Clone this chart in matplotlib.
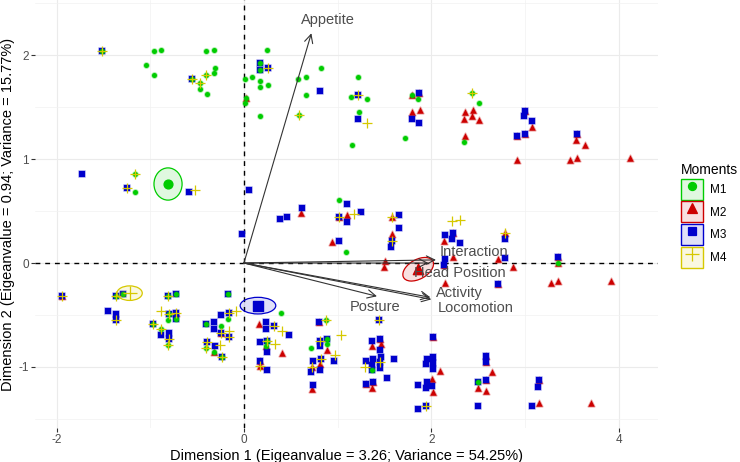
import matplotlib
matplotlib.use('Agg')
import matplotlib.pyplot as plt
from matplotlib.patches import Ellipse, Patch
from matplotlib.lines import Line2D
from matplotlib.ticker import MultipleLocator
from matplotlib.colors import to_rgba

plt.rcParams['font.family'] = ['Liberation Sans', 'DejaVu Sans']
plt.rcParams['axes.unicode_minus'] = False

# ---- data ----
moments = ['M1', 'M2', 'M3', 'M4']
colors = ['#00CC00', '#CC0000', '#0000CC', '#D6C800']
markers = ['o', '^', 's', '+']

m1_x = [-1.52, -0.96, -0.88, -0.40, -0.32, -1.04, -0.96, -0.55, -0.40, -0.32,
        -0.31, -0.47, -0.47, -0.39, 0.25, 0.17, 0.17, 0.01, 0.09, 0.17,
        0.17, 0.26, 0.02, 0.01, 0.17, 0.58, 0.66, 0.82, 0.66, 0.59,
        1.14, 1.22, 1.31, 1.23, 1.15, 1.79, 1.86, 1.72, 2.43, 2.51,
        2.35, -1.16, -1.16, 1.01, 1.09, 3.35, -1.37, -1.29, -0.81, -0.73,
        -0.80, -0.81, -0.73, -0.97, -0.88, -0.81, -0.17, -0.17, -0.40, -0.24,
        -0.41, -0.32, -0.23, 0.40, 0.25, 0.24, 0.88, 0.89, 0.89, 0.72,
        1.37, 2.50]
m1_y = [2.04, 2.04, 2.05, 2.04, 2.05, 1.90, 1.81, 1.77, 1.81, 1.83,
        1.88, 1.73, 1.67, 1.63, 2.05, 1.92, 1.86, 1.77, 1.79, 1.75,
        1.69, 1.71, 1.59, 1.54, 1.41, 1.77, 1.79, 1.88, 1.62, 1.42,
        1.60, 1.79, 1.58, 1.45, 1.14, 1.62, 1.58, 1.20, 1.64, 1.54,
        1.16, 0.86, 0.68, 0.61, 0.11, 0.00, -0.32, -0.30, -0.32, -0.30,
        -0.49, -0.55, -0.54, -0.59, -0.63, -0.79, -0.30, -0.54, -0.59, -0.61,
        -0.82, -0.86, -0.90, -0.48, -0.75, -0.80, -0.55, -0.73, -0.78, -0.82,
        -1.03, -1.14]

m2_x = [0.02, 1.79, 1.87, 1.79, 1.88, 2.36, 2.44, 2.35, 2.43, 2.51,
        2.36, 3.00, 3.07, 2.92, 3.00, 2.92, 3.56, 3.55, 3.64, 3.48,
        3.56, 4.12, 1.02, 1.10, 0.61, 0.94, 1.58, 1.58, 1.51, 1.50,
        2.14, 2.23, 2.14, 2.23, 2.79, 2.71, 2.87, 3.35, 3.35, 2.15,
        2.71, 3.28, 3.35, 3.92, -1.94, -0.73, -0.24, -0.32, 0.16, 0.24,
        0.41, 0.17, 0.17, 0.80, 0.89, 0.81, 0.73, 0.73, 1.45, 1.37,
        1.46, 1.30, 1.38, 1.37, 2.02, 2.09, 2.01, 2.02, 2.58, 2.58,
        2.65, 2.58, 2.50, 2.58, 3.15, 3.15, 3.71]
m2_y = [1.59, 1.62, 1.64, 1.45, 1.47, 1.45, 1.47, 1.39, 1.41, 1.38,
        1.22, 1.46, 1.31, 1.22, 1.24, 0.99, 1.24, 1.18, 1.14, 0.99,
        1.01, 1.01, 0.44, 0.46, 0.48, 0.20, 0.44, 0.28, 0.02, -0.04,
        0.21, 0.29, -0.02, 0.06, 0.29, 0.04, -0.04, 0.06, 0.00, -0.19,
        -0.20, -0.19, -0.17, -0.17, -0.32, -0.48, -0.67, -0.86, -0.59, -0.80,
        -0.87, -0.94, -0.99, -0.57, -0.84, -0.97, -1.00, -1.21, -0.73, -0.80,
        -0.78, -1.16, -1.14, -1.20, -0.71, -1.04, -1.12, -1.24, -0.89, -0.95,
        -1.05, -1.13, -1.20, -1.23, -1.13, -1.35, -1.35]

m3_x = [-1.52, -0.55, 0.17, 0.17, 0.26, 0.81, 1.22, 1.22, 1.87, 1.79,
        1.87, 3.00, 2.99, 3.08, 2.92, 3.00, 3.56, -1.73, -1.25, -0.59,
        0.05, 1.10, 1.25, 1.02, 1.10, 0.62, 0.38, 0.46, -0.02, 1.02,
        1.66, 1.66, 1.58, 1.57, 2.15, 2.23, 2.22, 2.31, 2.15, 2.14,
        2.79, 2.79, 3.35, 2.71, -1.94, -1.37, -1.29, -1.45, -1.37, -1.37,
        -0.81, -0.73, -0.80, -0.73, -0.73, -0.97, -0.80, -0.89, -0.80, -0.17,
        -0.24, -0.16, -0.40, -0.32, -0.32, -0.24, -0.16, -0.39, -0.31, -0.23,
        0.24, 0.24, 0.32, 0.48, 0.17, 0.25, 0.25, 0.17, 0.25, 0.80,
        0.81, 0.89, 0.81, 0.74, 0.82, 0.96, 0.72, 0.81, 0.74, 1.44,
        1.37, 1.45, 1.45, 1.46, 1.30, 1.38, 1.45, 1.60, 1.37, 1.37,
        1.45, 1.53, 1.30, 1.38, 2.02, 1.95, 2.02, 2.02, 1.94, 2.02,
        1.86, 1.95, 1.94, 2.01, 1.86, 1.94, 2.58, 2.58, 2.58, 2.50,
        2.50, 3.15, 3.14, 3.07]
m3_y = [2.04, 1.77, 1.92, 1.86, 1.88, 1.65, 1.62, 1.39, 1.64, 1.39,
        1.35, 1.46, 1.41, 1.37, 1.22, 1.24, 1.24, 0.86, 0.72, 0.68,
        0.70, 0.57, 0.49, 0.44, 0.39, 0.53, 0.42, 0.44, 0.28, 0.21,
        0.46, 0.34, 0.21, 0.15, 0.27, 0.29, 0.23, 0.19, 0.04, -0.02,
        0.23, 0.05, 0.06, -0.20, -0.32, -0.32, -0.30, -0.46, -0.49, -0.55,
        -0.32, -0.30, -0.49, -0.48, -0.54, -0.59, -0.67, -0.69, -0.73, -0.30,
        -0.50, -0.48, -0.59, -0.57, -0.63, -0.67, -0.71, -0.76, -0.80, -0.90,
        -0.57, -0.63, -0.61, -0.69, -0.76, -0.75, -0.86, -0.94, -1.03, -0.57,
        -0.75, -0.73, -0.80, -0.94, -0.92, -0.94, -1.05, -1.03, -1.17, -0.55,
        -0.75, -0.73, -0.84, -0.90, -0.94, -0.92, -0.95, -0.92, -0.98, -1.03,
        -1.01, -1.11, -1.16, -1.14, -0.71, -0.92, -0.90, -0.96, -0.97, -1.02,
        -1.17, -1.14, -1.20, -1.18, -1.40, -1.38, -0.89, -0.95, -1.13, -1.14,
        -1.38, -1.13, -1.19, -1.38]

m4_x = [-1.52, -0.55, -0.40, -0.47, 0.26, 0.59, 1.22, 1.31, 2.43, -1.16,
        -1.25, -0.52, 1.02, 1.17, 1.58, 1.58, 2.22, 2.31, 2.79, -1.94,
        -1.37, -1.37, -0.81, -0.89, -0.80, -0.73, -0.97, -0.88, -0.80, -0.81,
        -0.16, -0.08, -0.24, -0.16, -0.16, -0.39, -0.41, -0.25, -0.23, 0.32,
        0.41, 0.25, 0.33, 0.17, 0.88, 1.04, 0.81, 0.97, 0.82, 0.73,
        1.44, 1.45, 1.29, 1.94]
m4_y = [2.04, 1.77, 1.81, 1.73, 1.88, 1.42, 1.62, 1.35, 1.64, 0.86,
        0.72, 0.70, 0.44, 0.47, 0.44, 0.21, 0.40, 0.41, 0.29, -0.32,
        -0.32, -0.55, -0.32, -0.46, -0.49, -0.48, -0.59, -0.63, -0.73, -0.79,
        -0.48, -0.46, -0.67, -0.65, -0.71, -0.76, -0.82, -0.79, -0.90, -0.61,
        -0.65, -0.75, -0.78, -0.99, -0.55, -0.69, -0.75, -0.88, -0.92, -1.00,
        -0.55, -0.95, -1.00, -1.38]

# group means and confidence ellipses
mean_x = [-0.81, 1.86, 0.15, -1.22]
mean_y = [0.76, -0.06, -0.41, -0.29]
ell_w = [0.30, 0.35, 0.38, 0.27]
ell_h = [0.31, 0.19, 0.16, 0.14]
ell_angle = [0, 25, 0, 0]

# variable arrows
var_names = ['Appetite', 'Interaction', 'Head Position', 'Activity', 'Locomotion', 'Posture']
var_x = [0.72, 2.05, 1.97, 1.99, 2.00, 1.42]
var_y = [2.21, 0.03, 0.00, -0.33, -0.35, -0.32]
lab_x = [0.90, 2.46, 2.30, 2.30, 2.47, 1.40]
lab_y = [2.34, 0.11, -0.10, -0.29, -0.43, -0.42]

xs = [m1_x, m2_x, m3_x, m4_x]
ys = [m1_y, m2_y, m3_y, m4_y]

# ---- plot ----
fig = plt.figure(figsize=(7.4, 4.62), dpi=100)
ax = fig.add_axes([35 / 740, 34 / 462, 623 / 740, 428 / 462])
ax.set_xlim(-2.23, 4.42)
ax.set_ylim(-1.587, 2.53)

ax.xaxis.set_major_locator(MultipleLocator(2))
ax.xaxis.set_minor_locator(MultipleLocator(1))
ax.yaxis.set_major_locator(MultipleLocator(1))
ax.yaxis.set_minor_locator(MultipleLocator(0.5))
ax.grid(which='major', color='#EBEBEB', lw=0.8, zorder=0)
ax.grid(which='minor', color='#F2F2F2', lw=0.5, zorder=0)
ax.set_axisbelow(True)
for s in ax.spines.values():
    s.set_visible(False)
ax.tick_params(which='major', length=2.7, width=0.8, color='#333333',
               labelsize=8.45, labelcolor='#4D4D4D', pad=1.5)
ax.tick_params(which='minor', length=0)

ax.axhline(0, color='black', lw=1.0, dashes=(3.5, 3.5), zorder=1)
ax.axvline(0, color='black', lw=1.0, dashes=(3.5, 3.5), zorder=1)

sizes = [13, 22, 16, 42]
order = [1, 2, 0, 3]
for k, i in enumerate(order):
    c = colors[i]
    if markers[i] == '+':
        ax.scatter(xs[i], ys[i], marker='+', s=sizes[i], color=c, linewidths=0.9, zorder=2 + k)
    else:
        ax.scatter(xs[i], ys[i], marker=markers[i], s=sizes[i], color=c,
                   edgecolors=[to_rgba(c, 0.35)], linewidths=1.2, zorder=2 + k)

for i in range(4):
    c = colors[i]
    e = Ellipse((mean_x[i], mean_y[i]), ell_w[i], ell_h[i], angle=ell_angle[i],
                facecolor=to_rgba(c, 0.12), edgecolor=c, lw=0.9, zorder=7)
    ax.add_patch(e)
mean_sizes = [40, 55, 45, 110]
for i in range(4):
    if markers[i] == '+':
        ax.scatter(mean_x[i], mean_y[i], marker='+', s=mean_sizes[i], color=colors[i], linewidths=0.9, zorder=8)
    else:
        ax.scatter(mean_x[i], mean_y[i], marker=markers[i], s=mean_sizes[i], color=colors[i], zorder=8)

for name, vx, vy, tx, ty in zip(var_names, var_x, var_y, lab_x, lab_y):
    ax.annotate('', xy=(vx, vy), xytext=(0, 0),
                arrowprops=dict(arrowstyle='->,head_length=0.6,head_width=0.3',
                                color='#333333', lw=0.8, shrinkA=0, shrinkB=0,
                                mutation_scale=10), zorder=9)
    ax.text(tx, ty, name, ha='center', va='center', fontsize=10.56, color='#4D4D4D', zorder=10)

ax.set_xlabel('Dimension 1 (Eigeanvalue = 3.26; Variance = 54.25%)', fontsize=10.56, labelpad=2)
ax.set_ylabel('Dimension 2 (Eigeanvalue = 0.94; Variance = 15.77%)', fontsize=10.56)
ax.yaxis.set_label_coords(-20 / 623, 0.5)

leg_sizes = [5.8, 7, 5.8, 10]
handles = []
for i in range(4):
    p = Patch(facecolor=to_rgba(colors[i], 0.12), edgecolor=colors[i], lw=1)
    m = Line2D([], [], ls='none', marker=markers[i], ms=leg_sizes[i], color=colors[i], mew=0.9)
    handles.append((p, m))
fig.legend(handles, moments, title='Moments', loc='upper left',
           bbox_to_anchor=(675 / 740, 1 - 157 / 462), frameon=False,
           fontsize=8.45, title_fontsize=10, handlelength=1.85, handleheight=2.38,
           labelspacing=0.15, handletextpad=0.6, borderpad=0, alignment='left')

fig.savefig('out.png', dpi=100)
